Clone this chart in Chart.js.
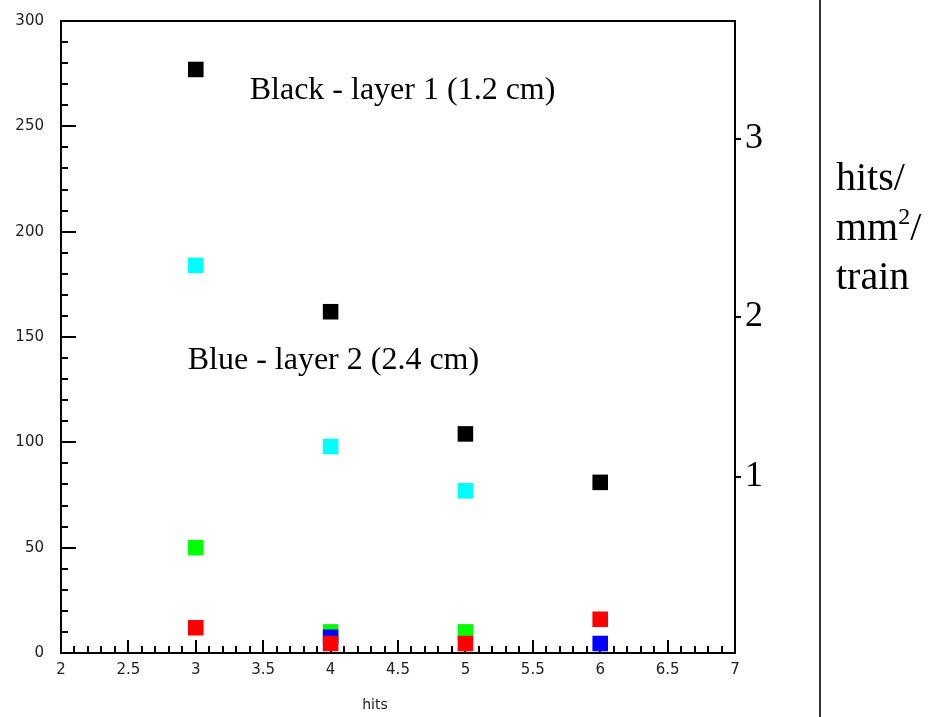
<!DOCTYPE html>
<html>
<head>
<meta charset="utf-8">
<script src="https://cdn.jsdelivr.net/npm/chart.js@4.4.1/dist/chart.umd.min.js"></script>
<style>
html,body{margin:0;padding:0;background:#fff;}
#wrap{width:939px;height:717px;position:relative;}
</style>
</head>
<body>
<div id="wrap"><canvas id="hitsChart"></canvas></div>
<script>
// hits per event
const blackPts = [[3,277],[4,162],[5,104],[6,81]];
const cyanPts = [[3,184],[4,98],[5,77]];
const greenPts = [[3,50],[4,10],[5,10]];
const bluePts = [[4,7.5],[6,4.5]];
const redPts = [[3,12],[4,4.5],[5,4.5],[6,16]];

// right hand scale (hits/mm2/train), placed against the left scale
const rightTickVals = [83.7,159.7,244.2];
const rightTickLabels = ["1","2","3"];

const notes = [
  {text:"Black - layer 1 (1.2 cm)", x:3.40, y:267},
  {text:"Blue - layer 2 (2.4 cm)", x:2.94, y:139}
];
const unitLines = ["hits/","mm","train"];
const xTitle = "hits";

function pts(a){ return a.map(p => ({x:p[0], y:p[1]})); }

function ds(label, arr, col){
  return {
    label: label,
    data: pts(arr),
    pointStyle: "rect",
    pointRadius: 11,
    pointHoverRadius: 11,
    pointBorderWidth: 0,
    backgroundColor: col,
    borderColor: col
  };
}

const frame = {
  id: "frame",
  beforeDatasetsDraw(chart){
    const ctx = chart.ctx;
    const a = chart.chartArea;
    const xs = chart.scales.x, ys = chart.scales.y;
    ctx.save();
    ctx.strokeStyle = "#000";
    ctx.lineWidth = 2;
    ctx.strokeRect(a.left, a.top, a.right - a.left, a.bottom - a.top);

    // inside ticks
    ctx.beginPath();
    for (let i = 1; i < 30; i++) {
      const v = i * 10;
      const py = Math.round(ys.getPixelForValue(v));
      const len = v % 50 === 0 ? 15 : 7;
      ctx.moveTo(a.left, py);
      ctx.lineTo(a.left + len, py);
    }
    for (let i = 1; i < 50; i++) {
      const v = 2 + i / 10;
      const px = Math.round(xs.getPixelForValue(v));
      const len = i % 5 === 0 ? 13 : 7;
      ctx.moveTo(px, a.bottom);
      ctx.lineTo(px, a.bottom - len);
    }
    ctx.stroke();
    ctx.restore();
  },
  afterDraw(chart){
    const ctx = chart.ctx;
    const xs = chart.scales.x, ys = chart.scales.y;
    ctx.save();
    // notes
    ctx.fillStyle = "#000";
    ctx.font = "32px 'Liberation Serif'";
    ctx.textBaseline = "middle";
    ctx.textAlign = "left";
    notes.forEach(n => {
      ctx.fillText(n.text, xs.getPixelForValue(n.x), ys.getPixelForValue(n.y));
    });

    ctx.fillStyle = "#222";
    ctx.font = "14px 'DejaVu Sans'";
    ctx.textAlign = "center";
    ctx.fillText(xTitle, 375, 705);
    ctx.textAlign = "left";

    // separator and unit label
    ctx.strokeStyle = "#333";
    ctx.lineWidth = 2;
    ctx.beginPath();
    ctx.moveTo(820, 0);
    ctx.lineTo(820, 717);
    ctx.stroke();

    ctx.fillStyle = "#000";
    ctx.font = "40px 'Liberation Serif'";
    ctx.textBaseline = "alphabetic";
    ctx.fillText(unitLines[0], 836, 190);
    ctx.fillText(unitLines[1], 836, 240);
    let w = ctx.measureText(unitLines[1]).width;
    ctx.font = "24px 'Liberation Serif'";
    ctx.fillText("2", 836 + w, 224);
    let w2 = ctx.measureText("2").width;
    ctx.font = "40px 'Liberation Serif'";
    ctx.fillText("/", 836 + w + w2, 240);
    ctx.fillText(unitLines[2], 836, 289);
    ctx.restore();
  }
};

new Chart(document.getElementById("hitsChart"), {
  type: "scatter",
  data: {
    datasets: [
      ds("layer 1", blackPts, "#000000"),
      ds("layer 2", cyanPts, "#00ffff"),
      ds("red", redPts, "#ff0000"),
      ds("blue", bluePts, "#0000ff"),
      ds("green", greenPts, "#00ff00")
    ]
  },
  options: {
    responsive: true,
    maintainAspectRatio: false,
    animation: false,
    layout: {padding: {top: 21, left: 0, right: 0, bottom: 0}},
    plugins: {legend: {display: false}, tooltip: {enabled: false}},
    scales: {
      x: {
        type: "linear",
        min: 2, max: 7,
        afterFit(s){ s.height = 64; s.paddingLeft = 0; s.paddingRight = 0; },
        grid: {display: false, drawTicks: false},
        border: {display: false},
        ticks: {stepSize: 0.5, padding: 8, color: "#222", font: {family: "DejaVu Sans", size: 15},
          callback: v => String(Math.round(v * 10) / 10)}
      },
      y: {
        type: "linear",
        min: 0, max: 300,
        afterFit(s){ s.width = 61; s.paddingTop = 0; s.paddingBottom = 0; },
        grid: {display: false, drawTicks: false},
        border: {display: false},
        ticks: {stepSize: 50, padding: 17, color: "#222", font: {family: "DejaVu Sans", size: 15}}
      },
      y2: {
        type: "linear",
        position: "right",
        min: 0, max: 300,
        afterFit(s){ s.width = 204; s.paddingTop = 0; s.paddingBottom = 0; },
        afterBuildTicks(s){ s.ticks = rightTickVals.map(v => ({value: v})); },
        grid: {drawOnChartArea: false, drawTicks: true, tickLength: 6, color: "#000", lineWidth: 2},
        border: {display: false},
        ticks: {
          padding: 4,
          color: "#000",
          font: {family: "Liberation Serif", size: 36},
          callback: (v, i) => rightTickLabels[i]
        }
      }
    }
  },
  plugins: [frame]
});
</script>
</body>
</html>
